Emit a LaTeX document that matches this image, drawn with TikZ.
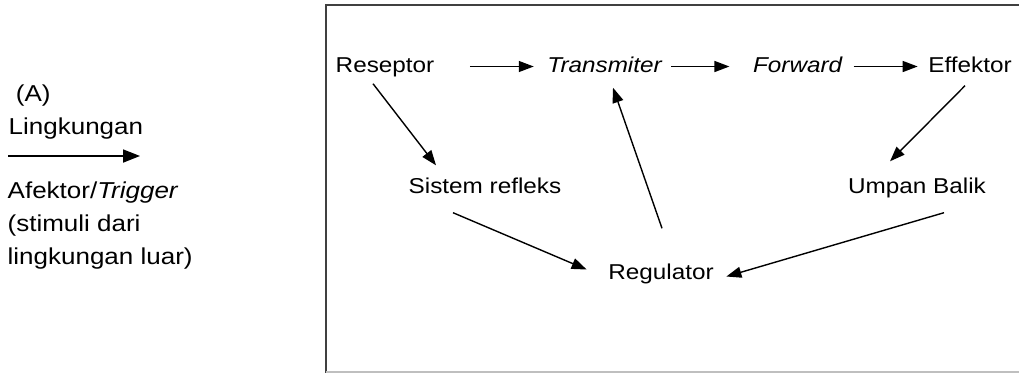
\documentclass[tikz,border=0pt]{standalone}
\usepackage{fontspec}
\setmainfont{Liberation Sans}[FakeStretch=1.13]
\usetikzlibrary{arrows.meta, positioning}

\begin{document}
\begin{tikzpicture}[
        x = 1pt, y = -1pt, % pixel grid of the sketch
        > = {Triangle[length=15pt, width=11pt]}, % arrow head style
        line width = 1.4pt, % line style
        blok/.style = {anchor = base, inner sep = 0pt,
            text height = 15pt, text depth = 4pt,
            font = \fontsize{21.5}{26}\selectfont},
        kiri/.style = {anchor = base west, inner sep = 0pt, align = left,
            font = \fontsize{23}{33}\selectfont}
    ]

    \useasboundingbox (0,0) rectangle (1019,373);

    % frame
    \draw[black!75, line width = 2.5pt] (1030,5) -- (326,5) -- (326,373);
    \draw[black!25, line width = 1.5pt] (326,372) -- (1030,372);

    % left side (base = last line)
    \node[kiri] (ling) at (8,134) {\ (A)\\Lingkungan};
    \node[kiri] (afek) at (7,264) {Afektor/\textit{Trigger}\\(stimuli dari\\lingkungan luar)};
    \coordinate (la) at (8,156);
    \coordinate (lb) at (140,156);
    \draw[-{Triangle[length=17pt, width=13pt]}, line width = 1.8pt] (la) -- (lb);

    % nodes in the box
    \node[blok] (resep) at (385,72) {Reseptor};
    \node[blok] (trans) at (605,72) {\textit{Transmiter}};
    \node[blok] (forw) at (798,72) {\textit{Forward}};
    \node[blok] (effek) at (970,72) {Effektor};
    \node[blok] (sistem) at (485,193) {Sistem refleks};
    \node[blok] (umpan) at (917,193) {Umpan Balik};
    \node[blok] (regul) at (661,279) {Regulator};

    \path[->] (resep.east) edge [shorten <=35pt, shorten >=13pt] (trans.west);
    \path[->] (trans.east) edge [shorten <=8pt, shorten >=23pt] (forw.west);
    \path[->] (forw.east) edge [shorten <=10pt, shorten >=10pt] (effek.west);

    \draw[->] ([xshift=-12pt, yshift=-7pt]resep.south) -- ([xshift=-49pt, yshift=12pt]sistem.north);
    \draw[->] ([xshift=-32pt, yshift=-15pt]sistem.south) -- ([xshift=-21pt, yshift=4pt]regul.west);
    \draw[->] ([xshift=1pt, yshift=35pt]regul.north) -- ([xshift=8pt, yshift=-11pt]trans.south);
    \draw[->] ([xshift=-5pt, yshift=-9pt]effek.south) -- ([xshift=-27pt, yshift=16pt]umpan.north);
    \draw[->] ([xshift=27pt, yshift=-15pt]umpan.south) -- ([xshift=12pt, yshift=-3pt]regul.east);
\end{tikzpicture}
\end{document}
